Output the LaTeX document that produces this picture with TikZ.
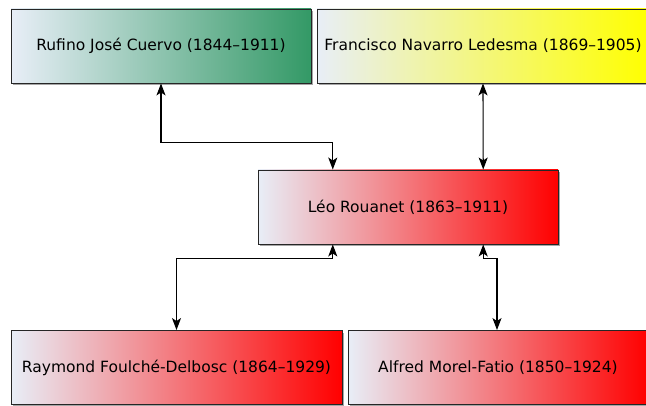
\documentclass[tikz,border=0pt]{standalone}
\usepackage{fontspec}
\setmainfont{DejaVu Sans}
\usetikzlibrary{arrows.meta,shadows,calc}
\definecolor{startc}{RGB}{232,238,247}
\definecolor{greenc}{RGB}{51,153,102}
\definecolor{yellowc}{RGB}{255,255,0}
\definecolor{redc}{RGB}{255,0,0}
\tikzset{
  person/.style={draw=black!85, line width=0.9pt, minimum height=74pt,
    inner sep=0pt, font=\fontsize{15.5}{18}\selectfont, left color=startc,
    drop shadow={shadow xshift=2pt, shadow yshift=-2.5pt, opacity=0.35, fill=black}},
  link/.style={line width=1.1pt, {Stealth[length=12pt,width=9pt,inset=3pt]}-{Stealth[length=12pt,width=9pt,inset=3pt]}}
}
\begin{document}
\begin{tikzpicture}[x=1pt,y=-1pt]
\useasboundingbox (0,0) rectangle (646,406);
\clip (0,0) rectangle (646,406);
\node[person, right color=greenc, minimum width=300pt] (ruf) at (161,46) {Rufino José Cuervo (1844–1911)};
\node[person, right color=yellowc, minimum width=332pt] (fra) at (483,46) {Francisco Navarro Ledesma (1869–1905)};
\node[person, right color=redc, minimum width=300pt] (leo) at (408,207) {Léo Rouanet (1863–1911)};
\node[person, right color=redc, minimum width=331pt] (ray) at (176.5,367.5) {Raymond Foulché-Delbosc (1864–1929)};
\node[person, right color=redc, minimum width=300pt] (alf) at (498,367.5) {Alfred Morel-Fatio (1850–1924)};
\coordinate (leoN1) at ($(leo.north west)!0.25!(leo.north east)$);
\coordinate (leoN2) at ($(leo.north west)!0.75!(leo.north east)$);
\coordinate (leoS1) at ($(leo.south west)!0.25!(leo.south east)$);
\coordinate (leoS2) at ($(leo.south west)!0.75!(leo.south east)$);
\coordinate (alfN) at ($(alf.north)+(-1,0)$);
\draw[link] (ruf.south) -- ++(0,59) -| (leoN1);
\draw[link] (fra.south) -- (leoN2);
\draw[link] (leoS1) -- ++(0,14) -| (ray.north);
\draw[link] (leoS2) -- ++(0,14) -| (alfN);
\end{tikzpicture}
\end{document}
